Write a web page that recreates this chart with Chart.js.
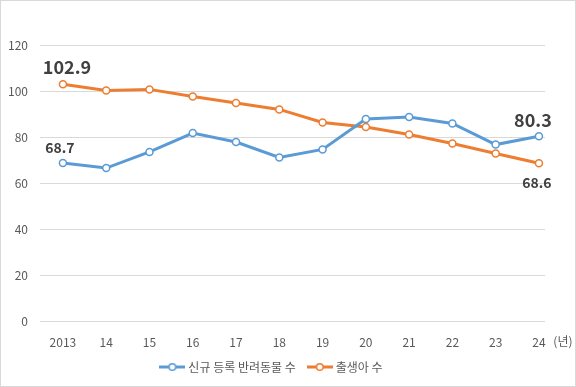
<!DOCTYPE html>
<html>
<head>
<meta charset="utf-8">
<script src="https://cdn.jsdelivr.net/npm/chart.js@4"></script>
<style>
  body { margin: 0; background: #fff; }
  #wrap { position: relative; width: 576px; height: 387px; }
</style>
</head>
<body>
<div id="wrap"><canvas id="output" width="576" height="387"></canvas></div>
<script>
// years on the x axis
const years = ['2013', '14', '15', '16', '17', '18', '19', '20', '21', '22', '23', '24'];
// 신규 등록 반려동물 수
const petValues = [68.7, 66.5, 73.5, 81.7, 77.8, 71.1, 74.6, 87.8, 88.7, 85.9, 76.7, 80.3];
// 출생아 수
const birthValues = [102.9, 100.2, 100.7, 97.6, 94.8, 92.0, 86.3, 84.3, 81.1, 77.2, 72.8, 68.6];
const seriesNames = ['신규 등록 반려동물 수', '출생아 수'];
const yTicks = [0, 20, 40, 60, 80, 100, 120];

const FONT = "'Noto Sans CJK KR', 'Noto Sans', sans-serif";
const BLUE = '#5b9bd5';
const ORANGE = '#ed7d31';

// legend marker: short line with an open circle
function legendMarker(color) {
    const c = document.createElement('canvas');
    c.width = 26; c.height = 10;
    const g = c.getContext('2d');
    g.strokeStyle = color;
    g.lineWidth = 3;
    g.beginPath(); g.moveTo(0, 5); g.lineTo(26, 5); g.stroke();
    g.fillStyle = '#fff';
    g.lineWidth = 1.5;
    g.beginPath(); g.arc(13, 5, 3.3, 0, Math.PI * 2); g.fill(); g.stroke();
    return c;
}

// first/last value labels drawn at the points
const endLabels = {
    id: 'endLabels',
    afterDatasetsDraw(chart) {
        const ctx = chart.ctx;
        const spec = [
            { ds: 1, i: 0, dx: 4, dy: -17, size: 18 },
            { ds: 0, i: 0, dx: -3, dy: -15, size: 14 },
            { ds: 0, i: 11, dx: -6, dy: -16, size: 18 },
            { ds: 1, i: 11, dx: -2, dy: 19, size: 14 }
        ];
        ctx.save();
        ctx.fillStyle = '#404040';
        ctx.textAlign = 'center';
        ctx.textBaseline = 'middle';
        spec.forEach(s => {
            const pt = chart.getDatasetMeta(s.ds).data[s.i];
            const val = chart.data.datasets[s.ds].data[s.i].y;
            ctx.font = 'bold ' + s.size + 'px ' + FONT;
            ctx.fillText(val.toFixed(1), pt.x + s.dx, pt.y + s.dy);
        });
        // unit after the last year label
        const xs = chart.scales.x;
        ctx.font = '12px ' + FONT;
        ctx.fillStyle = '#595959';
        ctx.fillText('(년)', xs.getPixelForValue(years.length - 1) + 24, xs.top + 20);
        ctx.restore();
    }
};

const frame = {
    id: 'frame',
    beforeDraw(chart) {
        const ctx = chart.ctx;
        ctx.save();
        ctx.fillStyle = '#fff';
        ctx.fillRect(0, 0, chart.width, chart.height);
        ctx.strokeStyle = '#d9d9d9';
        ctx.lineWidth = 1;
        ctx.strokeRect(0.5, 0.5, chart.width - 1, chart.height - 1);
        ctx.restore();
    }
};

const ctx = document.getElementById('output').getContext('2d');
new Chart(ctx, {
    type: 'line',
    data: {
        datasets: [
            {
                label: seriesNames[0],
                data: petValues.map((v, i) => ({ x: i, y: v })),
                borderColor: BLUE,
                backgroundColor: '#fff',
                borderWidth: 3,
                pointRadius: 3.5,
                pointBorderWidth: 1.5,
                pointBackgroundColor: '#fff',
                pointBorderColor: BLUE,
                pointStyle: 'circle',
                tension: 0
            },
            {
                label: seriesNames[1],
                data: birthValues.map((v, i) => ({ x: i, y: v })),
                borderColor: ORANGE,
                backgroundColor: '#fff',
                borderWidth: 3,
                pointRadius: 3.5,
                pointBorderWidth: 1.5,
                pointBackgroundColor: '#fff',
                pointBorderColor: ORANGE,
                pointStyle: 'circle',
                tension: 0
            }
        ]
    },
    options: {
        responsive: false,
        animation: false,
        layout: { padding: { top: 45, left: 0, right: 31, bottom: 4 } },
        scales: {
            x: {
                type: 'linear',
                min: -0.53,
                max: 11.14,
                afterBuildTicks: scale => { scale.ticks = years.map((_, i) => ({ value: i })); },
                afterFit: scale => { scale.height = 26; },
                grid: { display: false },
                border: { display: false },
                ticks: {
                    autoSkip: false,
                    maxRotation: 0,
                    padding: 6,
                    color: '#595959',
                    font: { family: FONT, size: 12 },
                    callback: v => years[v]
                }
            },
            y: {
                min: 0,
                max: 120,
                afterBuildTicks: scale => { scale.ticks = yTicks.map(v => ({ value: v })); },
                afterFit: scale => { scale.width = 40; },
                grid: { color: '#d9d9d9', lineWidth: 1, drawTicks: false },
                border: { display: false },
                ticks: {
                    padding: 12,
                    color: '#595959',
                    font: { family: FONT, size: 12 }
                }
            }
        },
        plugins: {
            legend: {
                position: 'bottom',
                labels: {
                    usePointStyle: true,
                    pointStyleWidth: 20,
                    color: '#595959',
                    font: { family: FONT, size: 12 },
                    padding: 14,
                    generateLabels: chart => chart.data.datasets.map((ds, i) => ({
                        text: ds.label,
                        pointStyle: legendMarker(ds.borderColor),
                        fontColor: '#595959',
                        lineWidth: 0,
                        datasetIndex: i
                    }))
                }
            },
            tooltip: { enabled: false }
        }
    },
    plugins: [frame, endLabels]
});
</script>
</body>
</html>
